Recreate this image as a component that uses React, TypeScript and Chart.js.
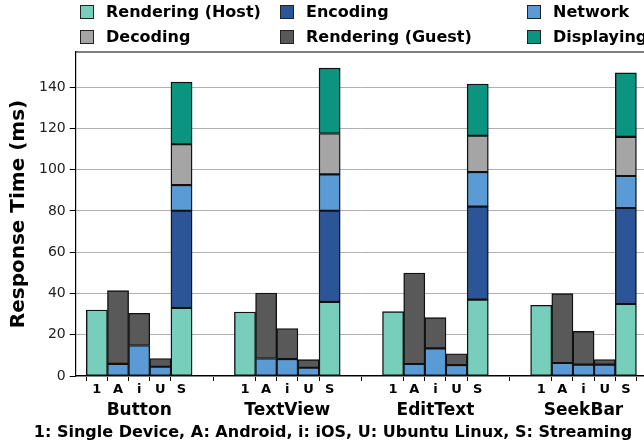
import React, { useEffect, useRef } from 'react';
import { Chart, registerables } from 'chart.js';

Chart.register(...registerables);

// ---------- data ----------
const groups = ['Button', 'TextView', 'EditText', 'SeekBar'];
const platforms = ['1', 'A', 'i', 'U', 'S'];
const yTickValues = [0, 20, 40, 60, 80, 100, 120, 140];
const seriesNames = ['Rendering (Host)', 'Encoding', 'Network', 'Decoding', 'Rendering (Guest)', 'Displaying'];
const seriesColors = ['#77ceba', '#2c5597', '#5b9bd5', '#a5a5a5', '#595959', '#0b9480'];

// values per bar: for each group, [1, A, i, U, S]
const renderingHost = [32.0, null, null, null, 33.0, 31.0, null, null, null, 35.9, 31.2, null, null, null, 37.0, 34.3, null, null, null, 34.9];
const encoding = [null, null, null, null, 47.1, null, null, null, null, 44.2, null, null, null, null, 45.1, null, null, null, null, 46.5];
const network = [null, 5.9, 14.8, 4.5, 12.4, null, 8.5, 8.2, 4.0, 17.6, null, 5.8, 13.4, 5.3, 16.7, null, 6.3, 5.5, 5.5, 15.5];
const decoding = [null, null, null, null, 19.8, null, null, null, null, 19.8, null, null, null, null, 17.6, null, null, null, null, 19.0];
const renderingGuest = [null, 35.5, 15.6, 4.0, null, null, 31.7, 14.8, 3.9, null, null, 44.1, 14.9, 5.5, null, null, 33.6, 16.1, 2.5, null];
const displaying = [null, null, null, null, 30.1, null, null, null, null, 31.7, null, null, null, null, 25.1, null, null, null, null, 31.0];

const xTitle = '1: Single Device, A: Android, i: iOS, U: Ubuntu Linux, S: Streaming';
const yTitle = 'Response Time (ms)';

const seriesValues = [renderingHost, encoding, network, decoding, renderingGuest, displaying];

// ---------- derived positions on the linear x scale ----------
const GROUP_GAP = 2;
const slot = platforms.length + GROUP_GAP;
const positions = groups.flatMap((_, gi) => platforms.map((__, pi) => gi * slot + pi));
const groupCenters = groups.map((_, gi) => gi * slot + (platforms.length - 1) / 2);
const X_MIN = -1;
const X_MAX = (groups.length - 1) * slot + platforms.length;

const FONT = 'DejaVu Sans';

const framePlugin = {
  id: 'frame',
  afterDatasetsDraw(chart: any) {
    const { ctx, chartArea } = chart;
    ctx.save();
    ctx.strokeStyle = '#000';
    ctx.lineWidth = 1.2;
    ctx.beginPath();
    ctx.moveTo(chartArea.left, chartArea.top);
    ctx.lineTo(chartArea.right, chartArea.top);
    ctx.lineTo(chartArea.right, chartArea.bottom);
    ctx.stroke();
    ctx.restore();
  },
};

const gridLegendPlugin = {
  id: 'gridLegend',
  afterDraw(chart: any) {
    const { ctx } = chart;
    const colX = [80, 280, 527];
    const rowY = [12, 37];
    const ncol = 3;
    ctx.save();
    chart.data.datasets.forEach((ds: any, i: number) => {
      const r = Math.floor(i / ncol);
      const c = i % ncol;
      const x = colX[c];
      const y = rowY[r];
      ctx.fillStyle = ds.backgroundColor;
      ctx.fillRect(x, y - 7, 14, 14);
      ctx.strokeStyle = '#222';
      ctx.lineWidth = 1;
      ctx.strokeRect(x + 0.5, y - 6.5, 13, 13);
      ctx.fillStyle = '#000';
      ctx.font = `bold 16px "${FONT}"`;
      ctx.textBaseline = 'middle';
      ctx.textAlign = 'left';
      ctx.fillText(ds.label, x + 26, y + 1);
    });
    // figure-level x caption
    ctx.font = `bold 16px "${FONT}"`;
    ctx.textAlign = 'center';
    ctx.textBaseline = 'middle';
    ctx.fillText(xTitle, 333, 433);
    ctx.restore();
  },
};

export default function App() {
  const canvasRef = useRef<HTMLCanvasElement | null>(null);

  useEffect(() => {
    if (!canvasRef.current) return;
    Chart.defaults.font.family = FONT;
    const chart = new Chart(canvasRef.current, {
      type: 'bar',
      data: {
        labels: positions,
        datasets: seriesNames.map((name, i) => ({
          label: name,
          data: seriesValues[i],
          backgroundColor: seriesColors[i],
          borderColor: '#111',
          borderWidth: 1.4,
          borderSkipped: false,
          categoryPercentage: 1,
          barPercentage: 1,
          xAxisID: 'x',
          yAxisID: 'y',
        })),
      },
      options: {
        animation: false,
        responsive: false,
        maintainAspectRatio: false,
        devicePixelRatio: 1,
        layout: { padding: { top: 52, left: 7, right: 13, bottom: 25 } },
        plugins: {
          legend: { display: false },
          tooltip: { enabled: false },
        },
        scales: {
          x: {
            type: 'linear',
            stacked: true,
            min: X_MIN,
            max: X_MAX,
            offset: false,
            weight: 0,
            afterBuildTicks: (scale: any) => {
              scale.ticks = positions.map((v) => ({ value: v }));
            },
            grid: {
              drawOnChartArea: false,
              drawTicks: true,
              tickLength: 5,
              tickColor: '#000',
              color: '#000',
            },
            border: { color: '#000', width: 1.2 },
            ticks: {
              autoSkip: false,
              maxRotation: 0,
              minRotation: 0,
              padding: 1,
              color: '#000',
              font: { size: 13, weight: 'bold' },
              callback: (_v: any, i: number) => platforms[i % platforms.length],
            },
          },
          x2: {
            type: 'linear',
            position: 'bottom',
            min: X_MIN,
            max: X_MAX,
            offset: false,
            weight: 1,
            afterBuildTicks: (scale: any) => {
              scale.ticks = groupCenters.map((v) => ({ value: v }));
            },
            grid: { display: false, drawTicks: false },
            border: { display: false },
            ticks: {
              autoSkip: false,
              maxRotation: 0,
              minRotation: 0,
              padding: 2,
              color: '#000',
              font: { size: 17, weight: 'bold' },
              callback: (_v: any, i: number) => groups[i],
            },
          },
          y: {
            stacked: true,
            min: 0,
            max: 157,
            afterBuildTicks: (scale: any) => {
              scale.ticks = yTickValues.map((v) => ({ value: v }));
            },
            grid: {
              color: '#b0b0b0',
              lineWidth: 1,
              tickColor: '#000',
              tickLength: 6,
            },
            border: { color: '#000', width: 1.2 },
            ticks: {
              color: '#222',
              padding: 4,
              font: { size: 14 },
            },
            title: {
              display: true,
              text: yTitle,
              color: '#000',
              font: { size: 20, weight: 'bold' },
              padding: { top: 0, bottom: 4 },
            },
          },
        },
      },
      plugins: [framePlugin, gridLegendPlugin],
    } as any);
    return () => chart.destroy();
  }, []);

  return (
    <div style={{ position: 'absolute', left: 0, top: 0, width: 644, height: 448, overflow: 'hidden', background: '#fff' }}>
      <canvas ref={canvasRef} width={660} height={448} style={{ display: 'block', width: 660, height: 448 }} />
    </div>
  );
}
